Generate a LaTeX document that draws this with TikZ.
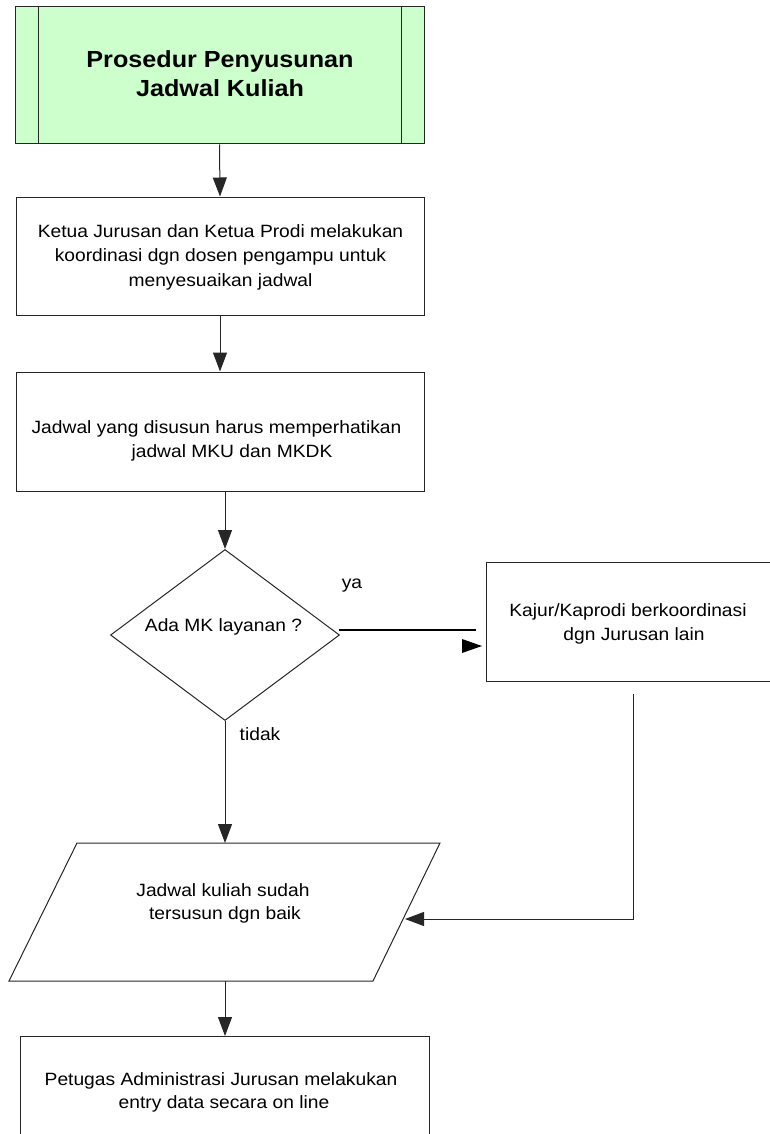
\documentclass[tikz,border=0pt]{standalone}
\usepackage{fontspec}
\setmainfont{Liberation Sans}[FakeStretch=1.08]
\usetikzlibrary{arrows.meta,shapes.geometric}
\definecolor{titlegreen}{HTML}{CCFFCC}
\definecolor{edge}{HTML}{262626}
\newcommand{\bodyfont}{\fontsize{17.8}{24}\selectfont}
\newcommand{\titlefont}{\fontsize{23.3}{29}\selectfont\bfseries}
\begin{document}
\begin{tikzpicture}[x=1pt,y=-1pt,
  boxshape/.style={draw=edge, line width=1pt, inner sep=0pt},
  arr/.style={draw=edge, line width=1pt, -{Triangle[length=19pt,width=14pt]}},
  txt/.style={anchor=base, inner sep=0pt, font=\bodyfont},
  ttl/.style={anchor=base, inner sep=0pt, font=\titlefont}]
\useasboundingbox (0,0) rectangle (769,1134);

% title box
\node[boxshape, fill=titlegreen, minimum width=409pt, minimum height=137pt] (title) at (219.5,75.5) {};
\draw[edge, line width=1pt] (38,7) -- (38,144) (401,7) -- (401,144);
\node[ttl] (tt1) at (220,68) {Prosedur Penyusunan};
\node[ttl] (tt2) at (220,97) {Jadwal Kuliah};

% box 2
\node[boxshape, minimum width=408pt, minimum height=118pt] (b2) at (220,256) {};
\node[txt] (b2a) at (220.5,237) {Ketua Jurusan dan Ketua Prodi melakukan};
\node[txt] (b2b) at (220.5,261.5) {koordinasi dgn dosen pengampu untuk};
\node[txt] (b2c) at (220.5,286) {menyesuaikan jadwal};

% box 3
\node[boxshape, minimum width=408pt, minimum height=119pt] (b3) at (220,431.5) {};
\node[txt] (b3a) at (216.5,433) {Jadwal yang disusun harus memperhatikan};
\node[txt] (b3b) at (232,457) {jadwal MKU dan MKDK};

% decision
\node[boxshape, diamond, minimum width=229pt, minimum height=171pt] (dec) at (225,635) {};
\node[txt] (deca) at (223.5,631) {Ada MK layanan ?};
\node[txt] (ya) at (352,588) {ya};
\node[txt] (tidak) at (260,740) {tidak};

% Kajur box
\node[boxshape, minimum width=284pt, minimum height=119pt] (kj) at (628,621.5) {};
\node[txt] (kja) at (628,616) {Kajur/Kaprodi berkoordinasi};
\node[txt] (kjb) at (634,640) {dgn Jurusan lain};

% parallelogram
\coordinate (p1) at (77,843);
\coordinate (p2) at (440,843);
\coordinate (p3) at (373,981);
\coordinate (p4) at (9,981);
\draw[edge, line width=1pt] (p1) -- (p2) -- (p3) -- (p4) -- cycle;
\coordinate (ptop) at (225,843);
\coordinate (pbot) at (225,981);
\coordinate (pright) at (405,919);
\node[txt] (pa) at (223,896) {Jadwal kuliah sudah};
\node[txt] (pb) at (225,919) {tersusun dgn baik};

% box 4
\draw[edge, line width=1pt] (20,1140) -- (20,1036) coordinate (b4nw) -- (429,1036) coordinate (b4ne) -- (429,1140);
\coordinate (b4top) at (225,1036);
\node[txt] (b4a) at (221,1085) {Petugas Administrasi Jurusan melakukan};
\node[txt] (b4b) at (224,1108) {entry data secara on line};

% connectors
\draw[arr] (title.south) -- (b2.north);
\draw[arr] (b2.south) -- (b3.north);
\draw[arr] (b3.south -| dec.north) -- (dec.north);
\draw[arr] (dec.south) -- (ptop);
\draw[arr] (pbot) -- (b4top);

\coordinate (yaend) at (476,630);
\draw[black, line width=2pt] (339,630) -- (yaend);
\coordinate (yahead) at (482,646);
\fill[black] (462,639) -- (yahead) -- (462,653) -- cycle;

\coordinate (kjstart) at (633,694);
\draw[arr] (kjstart) -- (633,919) -- (pright);
\end{tikzpicture}
\end{document}
